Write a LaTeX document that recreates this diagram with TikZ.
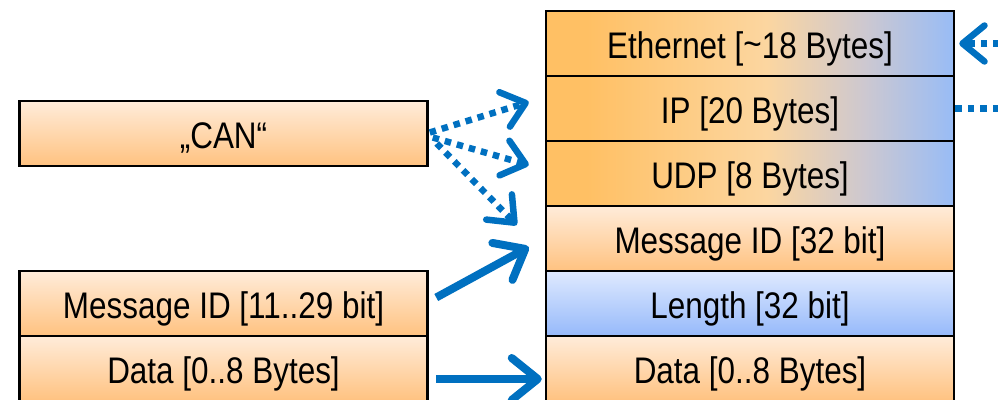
\documentclass[tikz,border=0pt]{standalone}
\usepackage{fontspec}
\setmainfont[FakeStretch=0.85]{Liberation Sans}
\usetikzlibrary{arrows.meta,calc}
\definecolor{oA}{RGB}{255,192,100}
\definecolor{oB}{RGB}{252,214,160}
\definecolor{gA}{RGB}{205,200,208}
\definecolor{bA}{RGB}{152,188,246}
\definecolor{oTop}{RGB}{255,236,218}
\definecolor{oBot}{RGB}{255,194,128}
\definecolor{bTop}{RGB}{223,234,255}
\definecolor{bBot}{RGB}{150,185,250}
\definecolor{arr}{RGB}{0,112,192}
\pgfdeclarehorizontalshading{hdrshade}{100bp}{color(0bp)=(oA); color(25bp)=(oA); color(30bp)=(oA); color(52bp)=(oB); color(64bp)=(gA); color(75bp)=(bA); color(100bp)=(bA)}
\begin{document}
\begin{tikzpicture}[x=1pt,y=-1pt,
  cell/.style={draw=black,line width=2.5pt,minimum width=408pt,minimum height=65pt,inner sep=0pt,text height=26.5pt,text depth=0pt,font=\fontsize{37}{40}\selectfont,text=black},
  hdr/.style={cell,shading=hdrshade},
  ocell/.style={cell,top color=oTop,bottom color=oBot},
  bcell/.style={cell,top color=bTop,bottom color=bBot},
  solidarr/.style={draw=arr,line width=8pt,-{Straight Barb[length=26pt,width=42pt,round]}},
  dotarr/.style={draw=arr,line width=6.5pt,dash pattern=on 6.5pt off 6pt,-{Straight Barb[length=22pt,width=36pt,round]}}
]
\useasboundingbox (0,0) rectangle (998,399);
\clip (0,0) rectangle (998,399);
% right column
\node[hdr]   (eth) at (750,43.5)  {\raisebox{-1.5pt}{Ethernet [\raisebox{0.1ex}{\char"007E}18 Bytes]}};
\node[hdr]   (ip)  at (750,108.5) {\raisebox{-1.5pt}{IP [20 Bytes]}};
\node[hdr]   (udp) at (750,173.5) {\raisebox{-1.5pt}{UDP [8 Bytes]}};
\node[ocell] (mid) at (750,238.5) {\raisebox{-1.5pt}{Message ID [32 bit]}};
\node[bcell] (len) at (750,303.5) {\raisebox{-1.5pt}{Length [32 bit]}};
\node[ocell] (dat) at (750,368.5) {\raisebox{-1.5pt}{Data [0..8 Bytes]}};
% left column
\node[ocell] (can)  at (223.5,133.5) {\raisebox{-1.5pt}{„CAN“}};
\node[ocell] (cmid) at (223.5,303.5) {\raisebox{-1.5pt}{Message ID [11..29 bit]}};
\node[ocell] (cdat) at (223.5,368.5) {\raisebox{-1.5pt}{Data [0..8 Bytes]}};
% dotted arrows from CAN
\draw[dotarr] ($(can.east)+(1,-1)$) -- ($(ip.west)+(-16,-6.5)$);
\draw[dotarr] ($(can.east)+(4,4)$) -- ($(udp.west)+(-16,-8.5)$);
\draw[dotarr] ($(can.east)+(8,10)$) -- ($(mid.west)+(-28,-13.5)$);
% solid arrows
\draw[solidarr] ($(cmid.east)+(7.5,-6)$) -- ($(mid.west)+(-16,8.5)$);
\draw[solidarr] ($(cdat.east)+(7.5,10.5)$) -- ($(dat.west)+(-3,10.5)$);
% loop from IP to Ethernet
\coordinate (lb) at ($(ip.east)+(46,0)$);
\coordinate (lt) at ($(eth.east)+(46,0)$);
\draw[dotarr] (ip.east) -- (lb) -- (lt) -- ($(eth.east)+(4,0)$);
\end{tikzpicture}
\end{document}
